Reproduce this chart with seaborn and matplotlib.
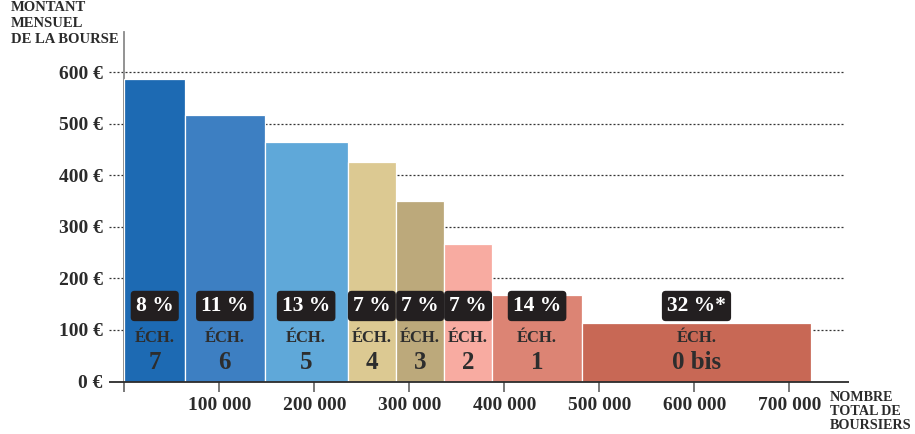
import matplotlib
matplotlib.use("Agg")
import matplotlib.pyplot as plt
import seaborn as sns
import numpy as np
import pandas as pd

# ---- data ----
echelons = ["7", "6", "5", "4", "3", "2", "1", "0 bis"]
boursiers = [63900, 83700, 87400, 51000, 50500, 50500, 94800, 240800]
montants = [587, 517, 464, 426, 350, 267, 168, 114]
parts = ["8 %", "11 %", "13 %", "7 %", "7 %", "7 %", "14 %", "32 %*"]
colors = ["#1d6ab3", "#3d7fc2", "#5fa8d9", "#dcc992", "#bca97b",
          "#f8aba1", "#dc8474", "#c86855"]
y_ticks = [0, 100, 200, 300, 400, 500, 600]
y_labels = ["0 €", "100 €", "200 €", "300 €", "400 €", "500 €", "600 €"]
x_ticks = [0, 100000, 200000, 300000, 400000, 500000, 600000, 700000]
x_labels = ["", "100 000", "200 000", "300 000", "400 000", "500 000",
            "600 000", "700 000"]

sns.set_theme(style="white")
plt.rcParams["font.family"] = ["Liberation Serif", "DejaVu Serif"]
plt.rcParams["font.weight"] = "bold"

W, H = 915, 434
fig = plt.figure(figsize=(W / 100, H / 100), dpi=100)
x0_px, x1_px, ybase_px, ytop_px = 124.4, 849, 381.5, 32
ax = fig.add_axes([x0_px / W, (H - ybase_px) / H,
                   (x1_px - x0_px) / W, (ybase_px - ytop_px) / H])

edges = np.concatenate([[0], np.cumsum(boursiers)])
df = pd.DataFrame({
    "echelon": echelons,
    "left": edges[:-1],
    "right": edges[1:],
    "montant": montants,
    "part": parts,
    "color": colors,
})
df["mid"] = (df["left"] + df["right"]) / 2

for _, r in df.iterrows():
    sns.histplot(x=[r["mid"]], weights=[r["montant"]],
                 bins=[r["left"], r["right"]], color=r["color"], alpha=1,
                 edgecolor="white", linewidth=0.9, ax=ax, zorder=2)

per_px = 100000 / 95.0
xmax = (x1_px - x0_px) * per_px
ax.set_xlim(0, xmax)
ax.set_ylim(0, (ybase_px - ytop_px) / 0.5155)
ax.set_xlabel("")
ax.set_ylabel("")

# grid lines (dotted, extending left of the axis)
ax.hlines(y_ticks[1:], -15 * per_px, 757000, colors="#333333",
          linestyles=(0, (1.6, 1.6)), linewidth=0.9, zorder=0, clip_on=False)
ax.hlines(0, -15 * per_px, xmax, colors="#2b2b2b", linewidth=1.3,
          zorder=4, clip_on=False)

for s in ["top", "right", "bottom"]:
    ax.spines[s].set_visible(False)
ax.spines["left"].set_color("#8a8a8a")
ax.spines["left"].set_linewidth(1.3)
ax.spines["left"].set_zorder(1)

ax.set_yticks(y_ticks, y_labels)
ax.set_xticks(x_ticks, x_labels)
ax.tick_params(axis="y", length=0, pad=15.5, labelsize=14,
               labelcolor="#2b2b2b")
ax.tick_params(axis="x", length=7, width=1.1, color="#555555", pad=4,
               labelsize=14, labelcolor="#2b2b2b", bottom=True)
for t in ax.get_xticklabels() + ax.get_yticklabels():
    t.set_fontweight("bold")

# labels inside bars
for _, r in df.iterrows():
    ax.text(r["mid"], 146.5, r["part"], ha="center", va="center",
            color="white", fontsize=15.5, fontweight="bold", zorder=6,
            bbox=dict(boxstyle="round,pad=0.24,rounding_size=0.18",
                      fc="#231f20", ec="none"))
    ax.text(r["mid"], 84.5, "ÉCH.", ha="center", va="center",
            color="#2d2d2d", fontsize=12, fontweight="bold", zorder=6)
    ax.text(r["mid"], 37, r["echelon"], ha="center", va="center",
            color="#2d2d2d", fontsize=18, fontweight="bold", zorder=6)

# axis titles
for txt, ypx in [("MONTANT", 11), ("MENSUEL", 27), ("DE LA BOURSE", 43)]:
    fig.text(11 / W, 1 - ypx / H, txt, ha="left", va="baseline",
             fontsize=10.5, fontweight="bold", color="#2b2b2b")
for txt, ypx in [("NOMBRE", 401), ("TOTAL DE", 415), ("BOURSIERS", 429)]:
    fig.text(830 / W, 1 - ypx / H, txt, ha="left", va="baseline",
             fontsize=10.2, fontweight="bold", color="#2b2b2b")

fig.savefig("out.png", dpi=100)
